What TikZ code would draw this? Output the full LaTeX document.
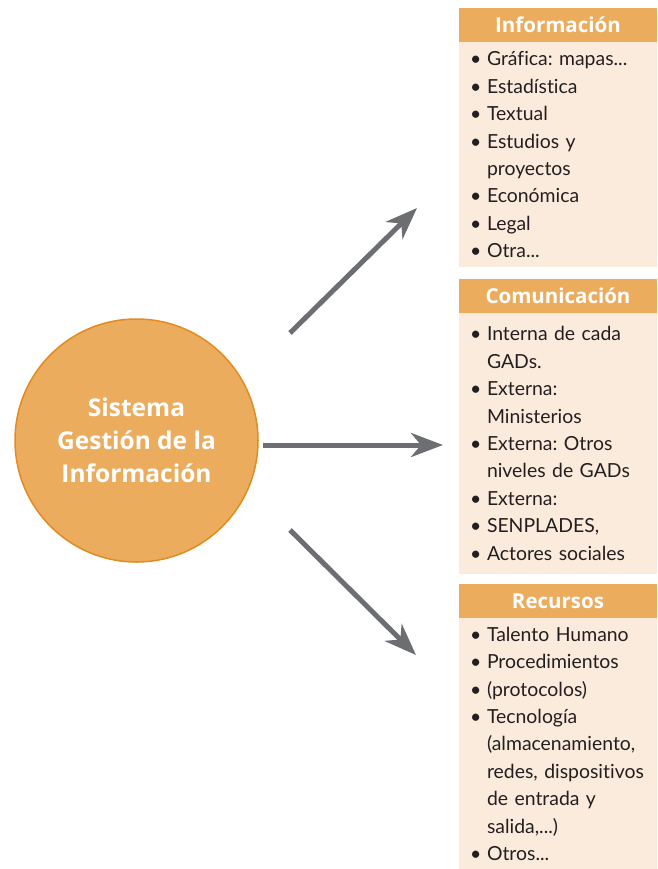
\documentclass[tikz,border=0pt]{standalone}
\usepackage{fontspec}
\setmainfont{Lato}[Ligatures=NoCommon]
\newfontfamily\negrita{Open Sans}[Ligatures=NoCommon]
\usetikzlibrary{positioning,arrows.meta}
\definecolor{naranja}{HTML}{ECAC5E}
\definecolor{borde}{HTML}{E38B1E}
\definecolor{crema}{HTML}{FBEBDC}
\definecolor{gris}{HTML}{6D6E71}
\definecolor{texto}{HTML}{231F20}
\newcommand{\itm}{\hspace*{4pt}\makebox[17pt][l]{\textbullet}}
\newcommand{\cont}{\hspace*{21pt}}
\frenchspacing
\hyphenpenalty=10000
\begin{document}
\begin{tikzpicture}[x=1pt,y=-1pt]
	\tikzset{sistema/.style = {shape=circle,draw=borde,line width=1.5pt,fill=naranja,minimum size=243pt,text=white,align=center,font=\negrita\bfseries\fontsize{24.5}{33}\selectfont}}
	\tikzset{header/.style = {shape=rectangle,fill=naranja,text=white,font=\negrita\bfseries\fontsize{20.5}{24}\selectfont,minimum width=198pt,minimum height=34pt,inner sep=0pt}}
	\tikzset{body/.style = {shape=rectangle,fill=crema,text=texto,font=\fontsize{19.4}{27.4}\selectfont,text width=184pt,align=left,minimum width=198pt,inner xsep=7pt,inner ysep=0pt}}
	\tikzset{flecha/.style = {-{Stealth[length=32pt,width=24pt,inset=10pt]},line width=5pt,draw=gris}}
	\useasboundingbox (0,0) rectangle (657,869);
	\node[sistema] (sgi) at (136.5,440.5) {Sistema\\Gestión de la\\Información};
	\node[header] (hinfo) at (558,25) {Información};
	\node[body,minimum height=225pt,below=0pt of hinfo] (binfo) {\itm Gráfica: mapas...\\ \itm Estadística\\ \itm Textual\\ \itm Estudios y\\ \cont proyectos\\ \itm Económica\\ \itm Legal\\ \itm Otra...};
	\node[header] (hcom) at (558,295.5) {Comunicación};
	\node[body,minimum height=261pt,below=0pt of hcom] (bcom) {\itm Interna de cada\\ \cont GADs.\\ \itm Externa:\\ \cont Ministerios\\ \itm Externa: Otros\\ \cont niveles de GADs\\ \itm Externa:\\ \itm SENPLADES,\\ \itm Actores sociales};
	\node[header] (hrec) at (558,601) {Recursos};
	\node[body,minimum height=251pt,below=0pt of hrec] (brec) {\itm Talento Humano\\ \itm Procedimientos\\ \itm (protocolos)\\ \itm Tecnología\\ \cont (almacenamiento,\\ \cont redes, dispositivos\\ \cont de entrada y\\ \cont salida,...)\\ \itm Otros...};
	\coordinate (s1) at (290,333);
	\coordinate (e1) at (417,208);
	\coordinate (s2) at (263,445);
	\coordinate (e2) at (443,445);
	\coordinate (s3) at (290,530);
	\coordinate (e3) at (416,655);
	\draw[flecha] (s1) -- (e1);
	\draw[flecha] (s2) -- (e2);
	\draw[flecha] (s3) -- (e3);
\end{tikzpicture}
\end{document}
